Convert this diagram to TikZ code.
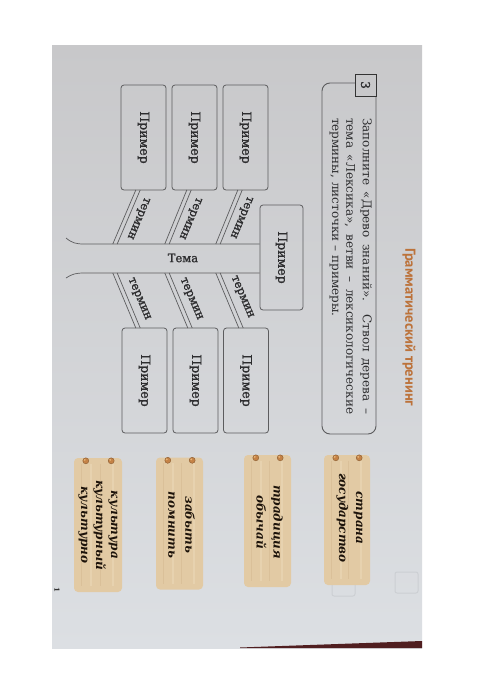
\documentclass[tikz,border=0pt]{standalone}
\usepackage{fontspec}
\setmainfont{DejaVu Serif}
\newfontfamily\titlefont{PT Sans}
\newfontfamily\semib[FakeBold=1.2]{DejaVu Serif}
\usepackage{graphicx}
\definecolor{pagetop}{RGB}{200,200,202}
\definecolor{pagebot}{RGB}{220,223,227}
\definecolor{linegray}{RGB}{92,92,94}
\definecolor{textgray}{RGB}{45,45,47}
\definecolor{titlecol}{RGB}{188,114,58}
\definecolor{tagtan}{RGB}{226,202,164}
\definecolor{taglight}{RGB}{234,214,180}
\definecolor{tagdark}{RGB}{214,186,146}
\definecolor{pincol}{RGB}{196,130,70}
\definecolor{pinlight}{RGB}{232,182,120}
\definecolor{ghost}{RGB}{204,207,211}
\definecolor{edgedark}{RGB}{80,30,32}
\begin{document}
\begin{tikzpicture}[x=1pt,y=-1pt,
  pbox/.style={draw=linegray, line width=0.8pt, rounded corners=3pt, inner sep=0pt,
    minimum width=45pt, minimum height=105pt, text=textgray,
    font=\semib\fontsize{12.5}{14}\selectfont},
  treeline/.style={draw=linegray, line width=0.7pt},
  termlbl/.style={text=textgray, inner sep=0pt, font=\semib\fontsize{11.5}{13}\selectfont},
  instrtxt/.style={text=textgray, inner sep=0pt, font=\fontsize{12}{14}\selectfont},
  tagbox/.style={fill=tagtan, rounded corners=4pt, inner sep=0pt,
    minimum width=47pt, minimum height=132pt},
  grain/.style={draw=taglight, line width=2pt, opacity=0.7},
  grainb/.style={draw=tagdark, line width=0.8pt, opacity=0.6},
  pin/.style={fill=pincol, draw=pincol!70!black, line width=0.4pt},
  tagtxt/.style={text=black!85!brown, inner sep=0pt, align=center,
    font=\fontsize{12}{17}\selectfont\bfseries\itshape},
  ghostbox/.style={draw=ghost, line width=1pt, rounded corners=2pt}
]
\useasboundingbox (0,0) rectangle (500,678);
\fill[white] (0,0) rectangle (500,678);
% page
\shade[top color=pagetop, bottom color=pagebot] (52,45) rectangle (422,648);
\fill[edgedark] (240,647.5) -- (422,641) -- (422,648) -- (240,648) -- cycle;
% ghost marks from the reverse page
\draw[ghostbox] (395,572) rectangle (418,593);
\draw[ghostbox] (332,575) rectangle (355,596);
\node[inner sep=0pt, text=black!80, font=\fontsize{7}{7}\selectfont\bfseries, rotate=-90] (pnum) at (57,590) {1};

% title
\node[rotate=-90, anchor=west, inner sep=0pt, text=titlecol,
  font=\titlefont\fontsize{14.5}{16}\selectfont\bfseries] (title) at (409,248) {Грамматический тренинг};

% instruction box
\node[draw=linegray, line width=0.9pt, rounded corners=8pt, minimum width=54pt,
  minimum height=351pt, inner sep=0pt] (instr) at (349,258.5) {};
\node[draw=black!80, line width=1pt, fill=pagetop, minimum width=21pt, minimum height=22pt,
  inner sep=0pt, text=textgray, font=\semib\fontsize{12}{14}\selectfont] (num) at (365.5,85) {\rotatebox{-90}{3}};
\node[instrtxt, rotate=-90, anchor=west] (l1) at (366,118) {\makebox[296pt][s]{Заполните «Древо знаний». Ствол дерева –}};
\node[instrtxt, rotate=-90, anchor=west] (l2) at (350,118) {\makebox[296pt][s]{тема «Лексика», ветви – лексикологические}};
\node[instrtxt, rotate=-90, anchor=west] (l3) at (334,118) {термины, листочки – примеры.};

% example boxes
\node[pbox] (up1) at (143.5,137.5) {\rotatebox{-90}{Пример}};
\node[pbox] (up2) at (194.5,137.5) {\rotatebox{-90}{Пример}};
\node[pbox] (up3) at (245.5,137.5) {\rotatebox{-90}{Пример}};
\node[pbox] (lo1) at (144.5,380.5) {\rotatebox{-90}{Пример}};
\node[pbox] (lo2) at (195.5,380.5) {\rotatebox{-90}{Пример}};
\node[pbox] (lo3) at (246,380.5) {\rotatebox{-90}{Пример}};
\node[pbox, minimum width=43pt] (endbox) at (281.5,257.5) {\rotatebox{-90}{Пример}};

% trunk
\coordinate (rootT) at (66,238);
\coordinate (rootB) at (66,278);
\coordinate (tt) at (84,244);
\coordinate (tb) at (84,273);
\draw[treeline] (rootT) .. controls (72,243) and (76,244) .. (tt) -- (tt -| endbox.west);
\draw[treeline] (rootB) .. controls (72,274) and (76,273) .. (tb) -- (tb -| endbox.west);
\node[termlbl] (tema) at (183,258) {Тема};

% branches
\coordinate (ub1) at (115,244); \coordinate (ue1) at (138,190);
\coordinate (ub2) at (167,244); \coordinate (ue2) at (189,190);
\coordinate (ub3) at (218,244); \coordinate (ue3) at (240,190);
\coordinate (lb1) at (115,273); \coordinate (le1) at (138,328);
\coordinate (lb2) at (167,273); \coordinate (le2) at (190,328);
\coordinate (lb3) at (218,273); \coordinate (le3) at (241,328);
\foreach \b in {1,2,3}{
  \foreach \s in {-2.2,2.2}{
    \draw[treeline] ([xshift=\s]ub\b) -- ([xshift=\s]ue\b);
    \draw[treeline] ([xshift=\s]lb\b) -- ([xshift=\s]le\b);
  }
}
\node[termlbl, rotate=-113] (ut1) at (138,218) {термин};
\node[termlbl, rotate=-113] (ut2) at (190,218) {термин};
\node[termlbl, rotate=-113] (ut3) at (241,217) {термин};
\node[termlbl, rotate=-67] (lt1) at (139,299) {термин};
\node[termlbl, rotate=-67] (lt2) at (191,299) {термин};
\node[termlbl, rotate=-67] (lt3) at (242,297) {термин};

% tags
\node[tagbox, minimum width=46pt, minimum height=130pt] (tag1) at (347,520) {};
\node[tagbox] (tag2) at (267.5,521) {};
\node[tagbox] (tag3) at (179.5,523.5) {};
\node[tagbox, minimum width=48pt, minimum height=134pt] (tag4) at (98,525) {};
\foreach \t in {tag1,tag2,tag3,tag4}{
  \draw[grain] ([xshift=17pt,yshift=-6pt]\t.north west) -- ([xshift=17pt,yshift=6pt]\t.south west);
  \draw[grain] ([xshift=-9pt,yshift=-6pt]\t.north east) -- ([xshift=-9pt,yshift=6pt]\t.south east);
  \draw[grainb] ([xshift=8pt,yshift=-6pt]\t.north west) -- ([xshift=8pt,yshift=6pt]\t.south west);
  \draw[grainb] ([xshift=-22pt,yshift=-6pt]\t.north east) -- ([xshift=-22pt,yshift=6pt]\t.south east);
  \fill[pin] ([xshift=12pt,yshift=-3pt]\t.north west) circle (3pt);
  \fill[pin] ([xshift=-11pt,yshift=-3pt]\t.north east) circle (3pt);
  \fill[pinlight] ([xshift=11pt,yshift=-2pt]\t.north west) circle (1pt);
  \fill[pinlight] ([xshift=-12pt,yshift=-2pt]\t.north east) circle (1pt);
}
\node[tagtxt, rotate=-90] (tag1t) at (349.5,518) {страна\\государство};
\node[tagtxt, rotate=-90] (tag2t) at (269.5,522) {традиция\\обычай};
\node[tagtxt, rotate=-90] (tag3t) at (181.5,525) {забыть\\помнить};
\node[tagtxt, rotate=-90, font=\fontsize{12}{15}\selectfont\bfseries\itshape] (tag4t) at (98,525) {культура\\культурный\\культурно};
\end{tikzpicture}
\end{document}
